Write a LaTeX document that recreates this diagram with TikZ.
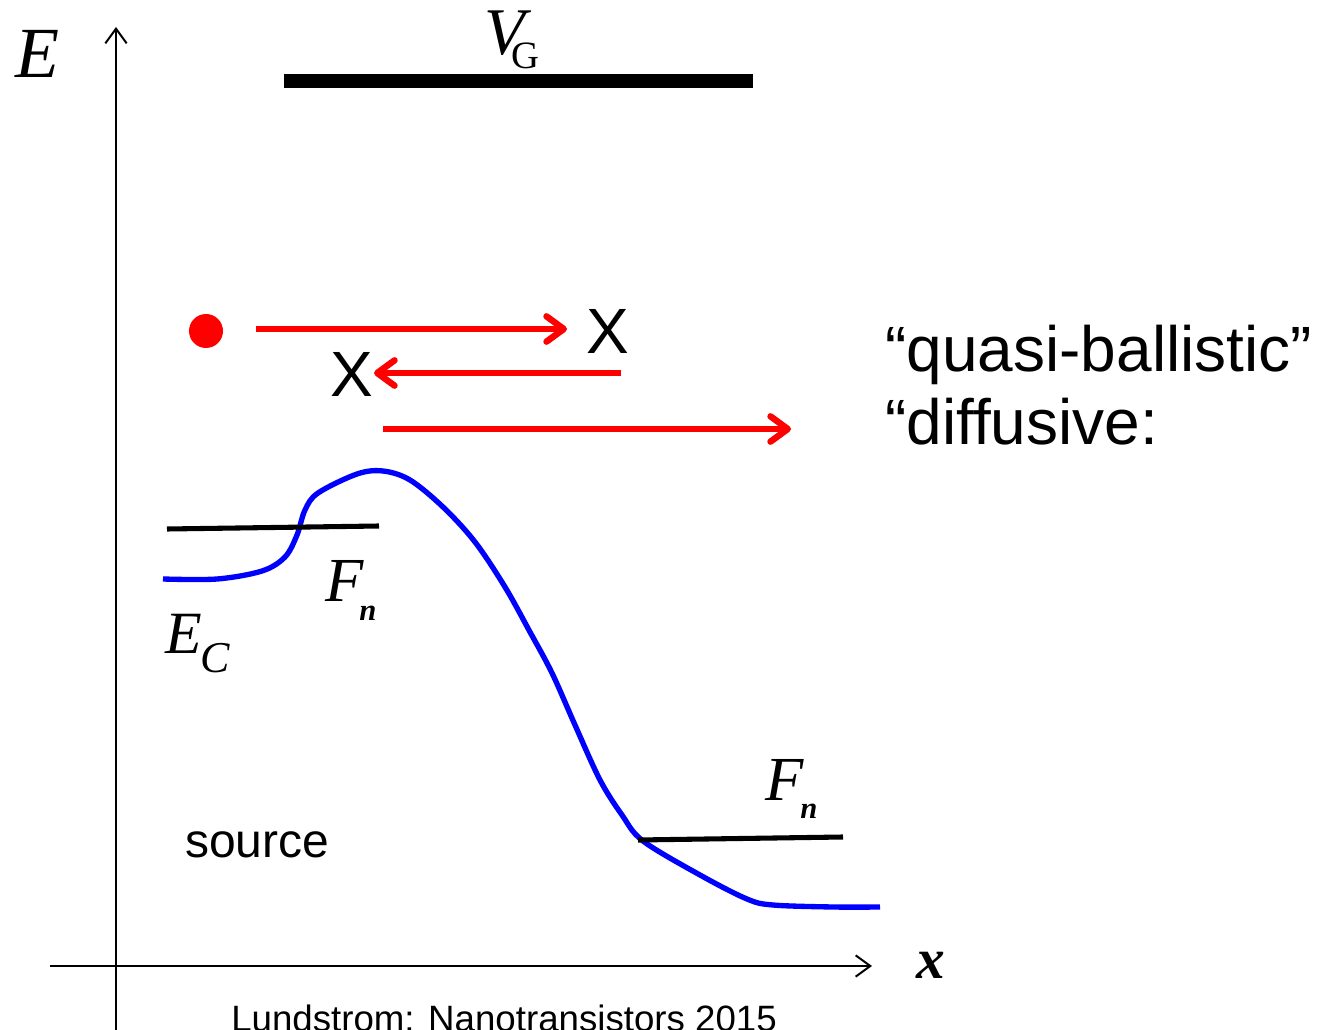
\documentclass[tikz,border=0pt]{standalone}
\usepackage{fontspec}
\setmainfont{Liberation Serif}
\newfontfamily\arialfont{Liberation Sans}
\usetikzlibrary{arrows.meta}
\begin{document}
\begin{tikzpicture}[x=0.75pt,y=-0.75pt,
  axis/.style={line width=1.5pt,-{Straight Barb[length=11pt,width=16pt]}},
  redarrow/.style={red,line width=4.8pt,-{Straight Barb[length=13pt,width=19pt,round]}},
  fermi/.style={line width=3.8pt},
  band/.style={blue,line width=4pt,line join=round,line cap=butt},
  lab/.style={inner sep=0pt,anchor=base west},
  sanslab/.style={inner sep=0pt,font=\arialfont\fontsize{48}{48}\selectfont}]
\useasboundingbox (0,0) rectangle (1325,1030);

% axes
\coordinate (ybot) at (116,1040);
\coordinate (ytop) at (116,27);
\coordinate (xl) at (50,966);
\coordinate (xr) at (872,966);
\draw[axis] (ybot) -- (ytop);
\draw[axis] (xl) -- (xr);

% axis labels
\node[lab,font=\fontsize{54}{54}\selectfont\itshape] (labE) at (15,78) {E};
\node[lab,font=\fontsize{43}{43}\selectfont\bfseries\itshape] (labx) at (916,978) {x};

% gate
\coordinate (g1) at (284,81);
\coordinate (g2) at (753,81);
\draw[line width=11pt] (g1) -- (g2);
\node[lab,font=\fontsize{50}{50}\selectfont\itshape] (labV) at (484,55) {V};
\node[lab,font=\fontsize{29}{29}\selectfont] (labG) at (511,69) {G};

% electron and arrows
\node[circle,fill=red,minimum size=25.5pt,inner sep=0pt] (dot) at (206,331) {};
\node[sanslab] (X1) at (608,331) {X};
\node[sanslab] (X2) at (352,374) {X};
\coordinate (a1s) at (256,329);
\coordinate (a1e) at (567,329);
\coordinate (a2s) at (621,373);
\coordinate (a2e) at (374,373);
\coordinate (a3s) at (383,429);
\coordinate (a3e) at (791,429);
\draw[redarrow] (a1s) -- (a1e);
\draw[redarrow] (a2s) -- (a2e);
\draw[redarrow] (a3s) -- (a3e);

% texts on right
\node[lab,font=\arialfont\fontsize{48}{48}\selectfont] (q) at (885,372) {“quasi-ballistic”};
\node[lab,font=\arialfont\fontsize{48}{48}\selectfont] (d) at (885,445) {“diffusive:};

% band
\draw[band] plot[smooth,tension=0.55] coordinates {
 (163,579) (217,579) (262,571) (285,557) (297,535) (305,510) (318,493)
 (357,474) (383,471) (410,480) (443,507) (475,542) (505,587) (530,632)
 (552,673) (575,725) (600,780) (622,815) (643,841) (700,875) (747,899)
 (773,905) (833,907) (880,907)};

% Fermi levels
\coordinate (f1a) at (167,529);
\coordinate (f1b) at (379,526);
\coordinate (f2a) at (638,840);
\coordinate (f2b) at (843,837);
\draw[fermi] (f1a) -- (f1b);
\draw[fermi] (f2a) -- (f2b);

% band labels
\node[lab,font=\fontsize{47}{47}\selectfont\itshape] (F1) at (325,601) {F};
\node[lab,font=\fontsize{23}{23}\selectfont\bfseries\itshape] (n1) at (359,620) {n};
\node[lab,font=\fontsize{47}{47}\selectfont\itshape] (F2) at (765,800) {F};
\node[lab,font=\fontsize{23}{23}\selectfont\bfseries\itshape] (n2) at (800,818) {n};
\node[lab,font=\fontsize{45}{45}\selectfont\itshape] (E1) at (165,653) {E};
\node[lab,font=\fontsize{33}{33}\selectfont\itshape] (C1) at (200,672) {C};

\node[lab,font=\arialfont\fontsize{36}{36}\selectfont] (src) at (185,857) {source};
\node[lab,font=\arialfont\fontsize{27.5}{27.5}\selectfont] (foot) at (231,1031) {Lundstrom: Nanotransistors 2015};
\end{tikzpicture}
\end{document}
